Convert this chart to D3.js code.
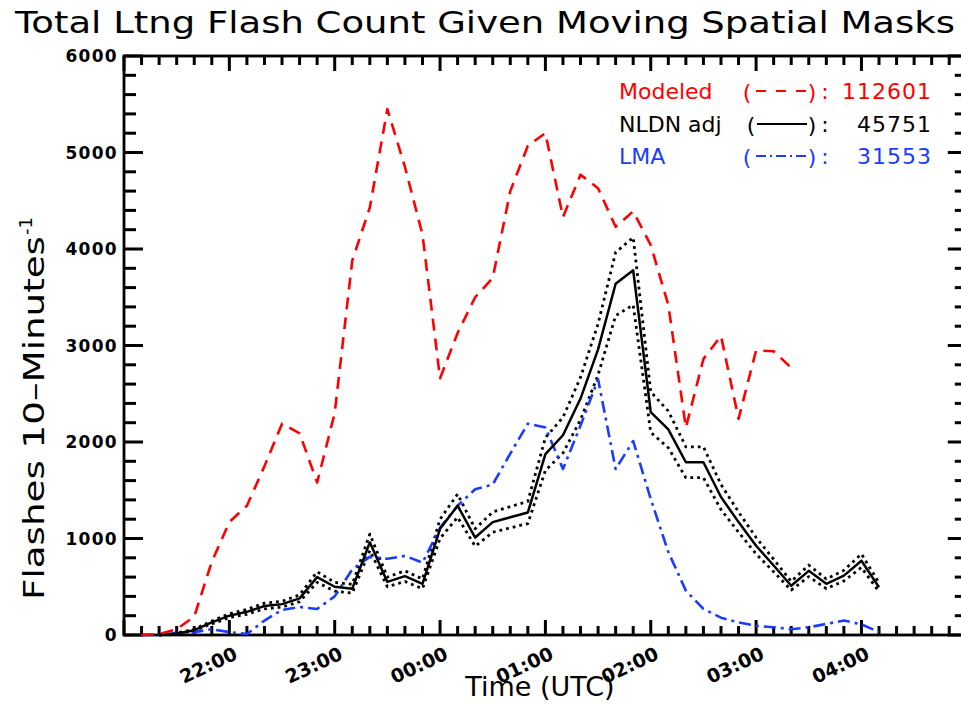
<!DOCTYPE html>
<html>
<head>
<meta charset="utf-8">
<script src="https://cdn.jsdelivr.net/npm/d3@7"></script>
<style>
  html, body { margin: 0; padding: 0; background: #fff; }
  svg { display: block; }
  text { font-family: "DejaVu Sans", sans-serif; }
</style>
</head>
<body>
<svg id="chart" width="961" height="704"></svg>
<script>
// 10-minute sample times (UTC), evening of day 1 into day 2
const sampleTimes = [
  "21:10","21:20","21:30","21:40","21:50","22:00","22:10","22:20","22:30","22:40","22:50",
  "23:00","23:10","23:20","23:30","23:40","23:50","00:00","00:10","00:20","00:30","00:40",
  "00:50","01:00","01:10","01:20","01:30","01:40","01:50","02:00","02:10","02:20","02:30",
  "02:40","02:50","03:00","03:10","03:20","03:30","03:40","03:50","04:00","04:10"
];

// Modeled flash counts (ends at 03:20)
const modeled = [
  0, 10, 60, 190, 760, 1170, 1340, 1750, 2190, 2090, 1580,
  2300, 3880, 4430, 5450, 4850, 4150, 2660, 3130, 3500, 3700, 4600,
  5070, 5200, 4330, 4770, 4630, 4230, 4390, 4040, 3420, 2150, 2860,
  3100, 2240, 2950, 2940, 2770, null, null, null, null, null
];

// NLDN adjusted flash counts and their uncertainty envelope
const nldnAdj = [
  null, 0, 15, 50, 130, 200, 240, 300, 320, 380, 600,
  500, 480, 960, 550, 610, 530, 1100, 1340, 1010, 1170, 1220,
  1270, 1875, 2070, 2450, 2960, 3640, 3780, 2310, 2130, 1790, 1790,
  1430, 1170, 925, 720, 510, 665, 530, 615, 770, 495
];
const nldnHigh = [
  null, 0, 20, 60, 145, 220, 265, 330, 350, 415, 655,
  545, 525, 1045, 600, 665, 580, 1200, 1460, 1100, 1275, 1330,
  1385, 2045, 2255, 2670, 3225, 3965, 4120, 2520, 2320, 1950, 1950,
  1560, 1275, 1010, 785, 555, 725, 580, 670, 840, 540
];
const nldnLow = [
  null, 0, 10, 45, 115, 180, 215, 270, 290, 345, 545,
  455, 435, 875, 500, 555, 480, 1000, 1220, 920, 1065, 1110,
  1155, 1705, 1885, 2230, 2695, 3310, 3420, 2100, 1940, 1630, 1630,
  1300, 1065, 840, 655, 465, 605, 480, 560, 700, 450
];

// LMA flash counts
const lma = [
  0, 0, 20, 30, 60, 30, 10, 150, 260, 290, 270,
  400, 680, 810, 790, 820, 750, 1110, 1340, 1510, 1560, 1880,
  2190, 2150, 1720, 2170, 2650, 1720, 2010, 1410, 860, 460, 270,
  180, 130, 95, 80, 60, 80, 115, 150, 110, 30
];

const hourLabels = ["22:00","23:00","00:00","01:00","02:00","03:00","04:00"];
const yTickLabels = ["0","1000","2000","3000","4000","5000","6000"];

const legendNames  = ["Modeled", "NLDN adj", "LMA"];
const legendTotals = ["112601", "45751", "31553"];

// minutes since 21:00, wrapping past midnight
function toMinutes(hhmm) {
  const [h, m] = hhmm.split(":").map(Number);
  return ((h - 21 + 24) % 24) * 60 + m;
}

const svg = d3.select("#chart");
const plotLeft = 124, plotRight = 966.8, plotTop = 56, plotBottom = 635;

const x = d3.scaleLinear().domain([0, 480]).range([plotLeft, plotRight]);
const y = d3.scaleLinear().domain([0, 6000]).range([plotBottom, plotTop]);

const RED = "#ff0000", BLUE = "#1a3cff", BLACK = "#000000";

// ---- ticks (pointing inward on all four sides)
const minorX = d3.range(0, 481, 10);
const minorY = d3.range(0, 6001, 200);
const isMajorX = t => t % 60 === 0;
const isMajorY = v => v % 1000 === 0;

const tickLayer = svg.append("g");
// bottom and top
[[plotBottom, -1], [plotTop, 1]].forEach(([yy, dir]) => {
  tickLayer.append("g").selectAll("line").data(minorX).join("line")
    .attr("x1", d => x(d)).attr("x2", d => x(d))
    .attr("y1", yy).attr("y2", d => yy + dir * (isMajorX(d) ? 15 : 9))
    .style("stroke", BLACK).style("stroke-width", "3px");
});
// left and right
[[plotLeft, 1], [plotRight, -1]].forEach(([xx, dir]) => {
  tickLayer.append("g").selectAll("line").data(minorY).join("line")
    .attr("y1", d => y(d)).attr("y2", d => y(d))
    .attr("x1", xx).attr("x2", d => xx + dir * (isMajorY(d) ? 19 : 12))
    .style("stroke", BLACK).style("stroke-width", "3px");
});

// frame
svg.append("rect")
  .attr("x", plotLeft).attr("y", plotTop)
  .attr("width", plotRight - plotLeft).attr("height", plotBottom - plotTop)
  .attr("fill", "none").attr("stroke", BLACK).attr("stroke-width", 2.8);

// y tick labels
svg.append("g").selectAll("text").data(yTickLabels).join("text")
  .attr("x", plotLeft - 6).attr("y", d => y(+d)).attr("dy", "0.36em")
  .attr("text-anchor", "end")
  .attr("font-size", 17).attr("font-weight", "bold").attr("letter-spacing", 1.3)
  .text(d => d);

// x tick labels, slanted
svg.append("g").selectAll("text").data(hourLabels).join("text")
  .attr("transform", d => `translate(${x(toMinutes(d)) - 21},665) rotate(-25)`)
  .attr("text-anchor", "middle").attr("dy", "0.36em")
  .attr("font-size", 19).attr("font-weight", "bold")
  .text(d => d);

// ---- series
const pts = vals => vals.map((v, i) => ({ t: toMinutes(sampleTimes[i]), v }));
const line = d3.line()
  .defined(d => d.v !== null)
  .x(d => x(d.t)).y(d => y(d.v));

function drawSeries(vals, color, dash, width) {
  svg.append("path").datum(pts(vals))
    .attr("d", line)
    .attr("fill", "none").attr("stroke", color)
    .attr("stroke-width", width)
    .attr("stroke-dasharray", dash)
    .attr("stroke-linejoin", "round");
}

drawSeries(nldnHigh, BLACK, "2.8,4", 2.8);
drawSeries(nldnLow, BLACK, "2.8,4", 2.8);
drawSeries(lma, BLUE, "12,5,3,5", 2.6);
drawSeries(nldnAdj, BLACK, null, 2.5);
drawSeries(modeled, RED, "12,8", 2.6);

// ---- legend
const legendColors = [RED, BLACK, BLUE];
const legendDash = ["10,10", null, "10,4,2,4"];
const rowY = [99, 132, 164];
const lg = svg.append("g").attr("font-size", 22);

legendNames.forEach((name, i) => {
  const c = legendColors[i];
  lg.append("text").attr("x", 619).attr("y", rowY[i]).attr("fill", c).text(name);
  lg.append("text").attr("x", i === 1 ? 751 : 747).attr("y", rowY[i] + 1)
    .attr("fill", c).attr("text-anchor", "middle").text("(");
  lg.append("line")
    .attr("x1", i === 1 ? 757 : 756).attr("x2", 807)
    .attr("y1", rowY[i] - 8).attr("y2", rowY[i] - 8)
    .attr("stroke", c).attr("stroke-width", 2.2)
    .attr("stroke-dasharray", legendDash[i]);
  lg.append("text").attr("x", 812).attr("y", rowY[i] + 1)
    .attr("fill", c).attr("text-anchor", "middle").text(")");
  lg.append("text").attr("x", 825).attr("y", rowY[i])
    .attr("fill", c).attr("text-anchor", "middle").text(":");
  lg.append("text").attr("x", 932).attr("y", rowY[i])
    .attr("fill", c).attr("text-anchor", "end").attr("letter-spacing", 1).text(legendTotals[i]);
});

// ---- titles
svg.append("text")
  .attr("x", 15).attr("y", 33)
  .attr("font-size", 30)
  .attr("textLength", 940).attr("lengthAdjust", "spacingAndGlyphs")
  .text("Total Ltng Flash Count Given Moving Spatial Masks");

svg.append("text")
  .attr("x", 540).attr("y", 696)
  .attr("text-anchor", "middle").attr("font-size", 27)
  .text("Time (UTC)");

// y title: main text stretched along the axis, superscript after it
svg.append("text")
  .attr("transform", "translate(44,600) rotate(-90)")
  .attr("font-size", 29)
  .attr("textLength", 364).attr("lengthAdjust", "spacingAndGlyphs")
  .text("Flashes 10\u2013Minutes");
svg.append("text")
  .attr("transform", "translate(32,235) rotate(-90)")
  .attr("font-size", 18)
  .text("-1");
</script>
</body>
</html>
